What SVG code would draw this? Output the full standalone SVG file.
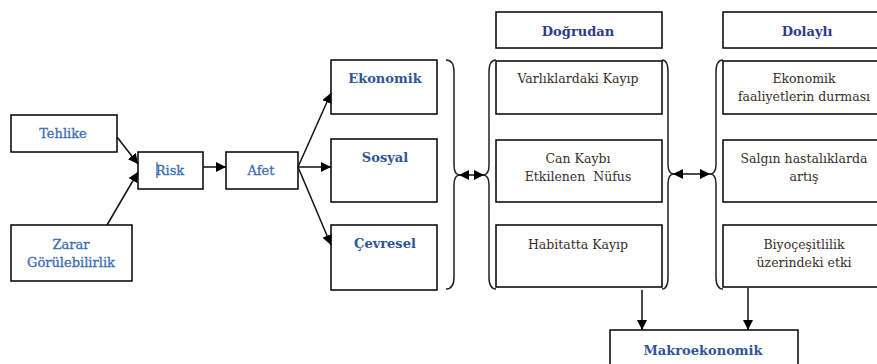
<svg xmlns="http://www.w3.org/2000/svg" width="877" height="364" viewBox="0 0 877 364">
<defs>
<marker id="ah" viewBox="0 0 10 10" refX="10" refY="5" markerWidth="10" markerHeight="10" markerUnits="userSpaceOnUse" orient="auto-start-reverse">
<path d="M0,0 L10,5 L0,10 z" fill="#000"/>
</marker>
<style>
.box{fill:#fff;stroke:#000;stroke-width:1.5}
.hd{font-family:"DejaVu Serif","Liberation Serif",serif;font-weight:bold;font-size:13px;fill:#2f5597;text-anchor:middle}
.hd2{font-family:"DejaVu Serif","Liberation Serif",serif;font-weight:bold;font-size:13px;fill:#2e3b8a;text-anchor:middle}
.lb{font-family:"DejaVu Serif","Liberation Serif",serif;font-size:13px;fill:#3b6cb4;text-anchor:middle;stroke:#3b6cb4;stroke-width:0.3}
.tx{font-family:"DejaVu Serif","Liberation Serif",serif;font-size:12.5px;fill:#3a2e2a;text-anchor:middle;white-space:pre}
.cn{fill:none;stroke:#111;stroke-width:1.5}
.br{fill:none;stroke:#222;stroke-width:1.5}
</style>
</defs>
<g id="tehlike"><rect class="box" x="11" y="115" width="106" height="37"/><text class="lb" x="63" y="138">Tehlike</text></g>
<g id="zarar"><rect class="box" x="11" y="225" width="121" height="56"/><text class="lb" x="71" y="249">Zarar</text><text class="lb" x="71" y="267">Görülebilirlik</text></g>
<g id="risk"><rect class="box" x="138" y="152" width="65" height="37"/><line x1="157" y1="162" x2="157" y2="178" stroke="#1f3a7a" stroke-width="1"/><text class="lb" x="170" y="175">Risk</text></g>
<g id="afet"><rect class="box" x="226" y="152" width="72" height="37"/><text class="lb" x="261" y="175">Afet</text></g>
<g id="ekonomik"><rect class="box" x="331" y="60" width="106" height="54"/><text class="hd" x="385" y="83">Ekonomik</text></g>
<g id="sosyal"><rect class="box" x="331" y="139" width="106" height="63"/><text class="hd" x="385" y="162">Sosyal</text></g>
<g id="cevresel"><rect class="box" x="331" y="225" width="106" height="65"/><text class="hd" x="385" y="248">Çevresel</text></g>
<g id="dogrudan"><rect class="box" x="496" y="12" width="166" height="36"/><text class="hd2" x="578" y="36">Doğrudan</text></g>
<g id="varliklar"><rect class="box" x="496" y="61" width="166" height="53"/><text class="tx" x="578" y="83">Varlıklardaki Kayıp</text></g>
<g id="cankaybi"><rect class="box" x="496" y="140" width="166" height="62"/><text class="tx" x="578" y="163">Can Kaybı</text><text class="tx" x="578" y="181">Etkilenen  Nüfus</text></g>
<g id="habitat"><rect class="box" x="496" y="225" width="166" height="62"/><text class="tx" x="578" y="249">Habitatta Kayıp</text></g>
<g id="dolayli"><rect class="box" x="723" y="12" width="160" height="36"/><text class="hd2" x="807" y="36">Dolaylı</text></g>
<g id="faaliyet"><rect class="box" x="723" y="61" width="160" height="53"/><text class="tx" x="804" y="83">Ekonomik</text><text class="tx" x="804" y="101">faaliyetlerin durması</text></g>
<g id="salgin"><rect class="box" x="723" y="140" width="160" height="62"/><text class="tx" x="804" y="163">Salgın hastalıklarda</text><text class="tx" x="804" y="181">artış</text></g>
<g id="biyo"><rect class="box" x="723" y="225" width="160" height="62"/><text class="tx" x="804" y="249">Biyoçeşitlilik</text><text class="tx" x="804" y="267">üzerindeki etki</text></g>
<g id="makro"><rect class="box" x="610" y="330" width="188" height="40"/><text class="hd" x="703" y="355">Makroekonomik</text></g>
<g id="connectors">
<line class="cn" x1="117" y1="137" x2="138" y2="164" marker-end="url(#ah)"/>
<line class="cn" x1="107" y1="225" x2="138" y2="172" marker-end="url(#ah)"/>
<line class="cn" x1="203" y1="167" x2="226" y2="167" marker-end="url(#ah)"/>
<line class="cn" x1="298" y1="167" x2="331" y2="93" marker-end="url(#ah)"/>
<line class="cn" x1="298" y1="167" x2="331" y2="167" marker-end="url(#ah)"/>
<line class="cn" x1="298" y1="167" x2="331" y2="245" marker-end="url(#ah)"/>
<line class="cn" x1="459" y1="175" x2="484" y2="175" marker-start="url(#ah)" marker-end="url(#ah)"/>
<line class="cn" x1="673" y1="174" x2="710" y2="174" marker-start="url(#ah)" marker-end="url(#ah)"/>
<line class="cn" x1="642" y1="290" x2="642" y2="330" marker-end="url(#ah)"/>
<line class="cn" x1="748" y1="288" x2="748" y2="330" marker-end="url(#ah)"/>
<path class="br" d="M446,60 Q454,60 454,72 L454,165 Q454,175 460,175 Q454,175 454,185 L454,277 Q454,289 446,289"/>
<path class="br" d="M496,60 Q489,60 489,72 L489,165 Q489,175 483,175 Q489,175 489,185 L489,277 Q489,289 496,289"/>
<path class="br" d="M662,60 Q668,60 668,72 L668,164 Q668,174 674,174 Q668,174 668,184 L668,277 Q668,289 662,289"/>
<path class="br" d="M723,60 Q716,60 716,72 L716,164 Q716,174 710,174 Q716,174 716,184 L716,277 Q716,289 723,289"/>
</g>
</svg>
